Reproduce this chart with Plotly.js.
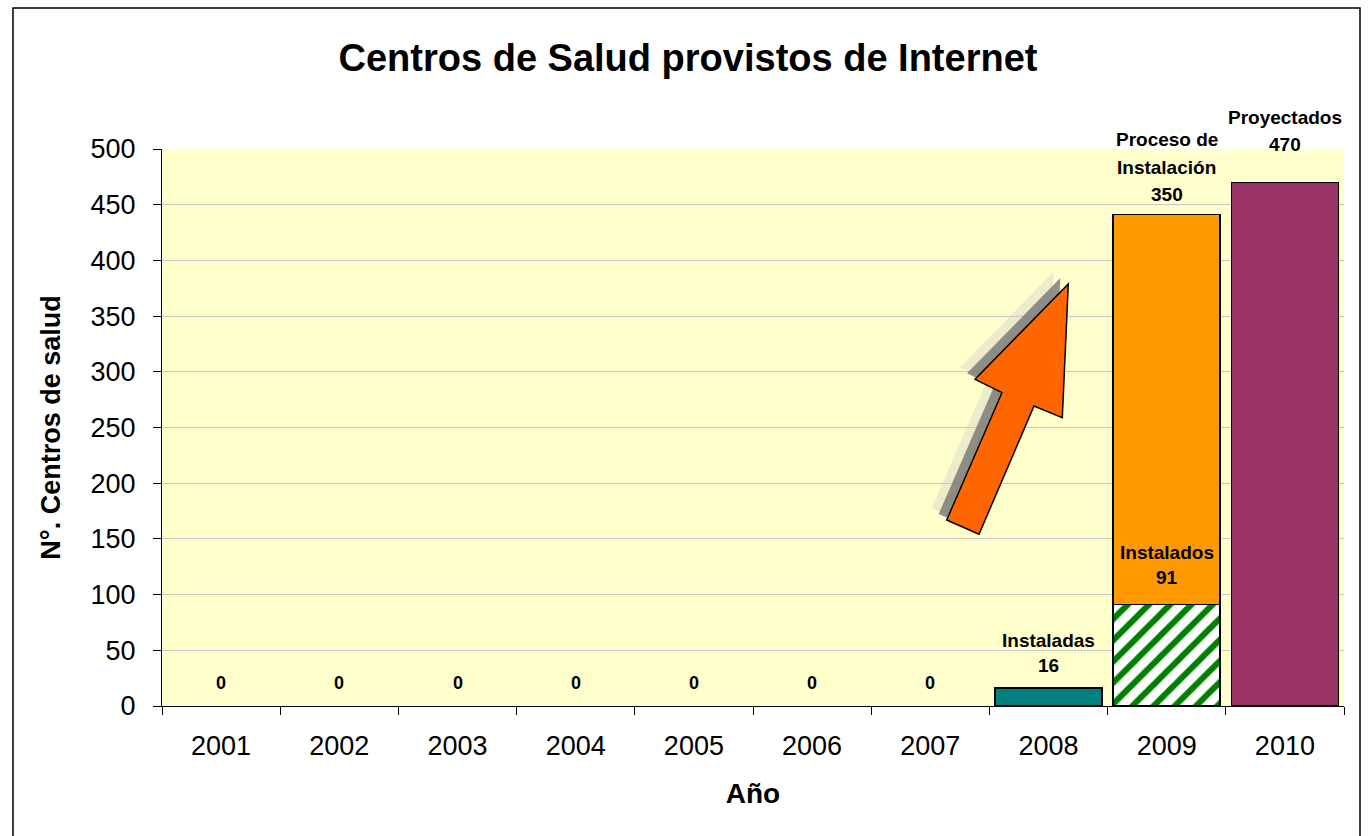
<!DOCTYPE html>
<html>
<head>
<meta charset="utf-8">
<script src="https://cdn.plot.ly/plotly-3.0.1.min.js"></script>
<style>html,body{margin:0;padding:0;background:#fff;}#chart{width:1370px;height:836px;}</style>
</head>
<body>
<div id="chart"></div>
<script>
// ---- data ----
const years = ['2001','2002','2003','2004','2005','2006','2007','2008','2009','2010'];
const instalados = [0, 0, 0, 0, 0, 0, 0, 16, 91, null];
const enProceso = [null, null, null, null, null, null, null, null, 350, null];
const proyectados = [null, null, null, null, null, null, null, null, null, 470];
const labelInstalados = ['', '', '', '', '', '', '', 'Instaladas', 'Instalados', ''];
const labelProceso = ['Proceso de', 'Instalación'];
const labelProyectados = 'Proyectados';
const hatchedYear = '2009';

const FONT = 'Liberation Sans, Arial, sans-serif';
const L = 162, R = 1344, T = 149, B = 706;
const W = 1370, H = 836;
const px = x => (x - L) / (R - L);
const py = y => (B - y) / (B - T);

const instSolid = instalados.map((v, i) => years[i] === hatchedYear ? null : v);
const instHatch = instalados.map((v, i) => years[i] === hatchedYear ? v : null);

const traces = [
  {
    type: 'bar', x: years, y: instSolid, name: 'Instaladas',
    marker: {color: '#008080', line: {color: '#000', width: instSolid.map(v => v ? 1.5 : 0)}}
  },
  {
    type: 'bar', x: years, y: instHatch, name: 'Instalados',
    marker: {
      color: '#FFFFFF',
      line: {color: '#000', width: 1.5},
      pattern: {shape: '/', fgcolor: '#008000', bgcolor: '#FFFFFF', fgopacity: 1, size: 15, solidity: 0.4}
    }
  },
  {
    type: 'bar', x: years, y: enProceso, name: 'Proceso de Instalación',
    marker: {color: '#FF9900', line: {color: '#000', width: 1.5}}
  },
  {
    type: 'bar', x: years, y: proyectados, name: 'Proyectados',
    marker: {color: '#993366', line: {color: '#000', width: 1.5}}
  }
];

const annotations = [];
function lab(i, y, text, shift, size) {
  annotations.push({x: i, y: y, xref: 'x', yref: 'y', text: '<b>' + text + '</b>', showarrow: false,
    yanchor: 'middle', yshift: shift, font: {family: FONT, size: size || 19, color: '#000'}});
}
years.forEach((yr, i) => {
  const v = instalados[i];
  if (v === 0) lab(i, 0, String(v), 23, 18);
});
lab(7, instalados[7], labelInstalados[7], 48);
lab(7, instalados[7], String(instalados[7]), 23);
lab(8, instalados[8], labelInstalados[8], 52);
lab(8, instalados[8], String(instalados[8]), 27);
const top09 = instalados[8] + enProceso[8];
lab(8, top09, labelProceso[0], 75);
lab(8, top09, labelProceso[1], 47);
lab(8, top09, String(enProceso[8]), 20);
lab(9, proyectados[9], labelProyectados, 65);
lab(9, proyectados[9], String(proyectados[9]), 38);

const arrowPx = [[946.7,520],[979,534.3],[1034,406],[1062.3,417.7],[1068.3,284],[975,379.3],[1002,392.7]];
function pathFrom(pts, dx, dy) {
  return pts.map((p, i) => (i ? 'L' : 'M') + px(p[0] + dx).toFixed(5) + ',' + py(p[1] + dy).toFixed(5)).join(' ') + ' Z';
}
const shapes = [
  {type: 'path', xref: 'paper', yref: 'paper', path: pathFrom(arrowPx, -15, -12), fillcolor: 'rgba(200,200,200,0.35)', line: {width: 0}, layer: 'above'},
  {type: 'path', xref: 'paper', yref: 'paper', path: pathFrom(arrowPx, -8, -6), fillcolor: 'rgba(110,110,110,0.75)', line: {width: 0}, layer: 'above'},
  {type: 'path', xref: 'paper', yref: 'paper', path: pathFrom(arrowPx, 0, 0), fillcolor: '#FF6600', line: {color: '#000', width: 1.5}, layer: 'above'},
  {type: 'rect', xref: 'paper', yref: 'paper', x0: px(13), x1: px(1360), y0: py(850), y1: py(8), line: {color: '#000', width: 1.5}, fillcolor: 'rgba(0,0,0,0)'}
];

const layout = {
  width: W, height: H, autosize: false,
  margin: {l: L, r: W - R, t: T, b: H - B, pad: 0},
  paper_bgcolor: '#FFFFFF', plot_bgcolor: '#FFFFCC',
  barmode: 'stack', bargap: 0.095, showlegend: false,
  font: {family: FONT, color: '#000'},
  title: {text: '<b>Centros de Salud provistos de Internet</b>', font: {family: FONT, size: 38, color: '#000'},
    x: 688 / W, xref: 'container', y: 1 - 58 / H, yref: 'container', yanchor: 'middle', xanchor: 'center'},
  xaxis: {
    type: 'category', categoryorder: 'array', categoryarray: years, range: [-0.5, years.length - 0.5],
    ticks: 'outside', ticklen: 8, tickcolor: '#000', tickwidth: 1, tickson: 'boundaries',
    showline: true, linecolor: '#000', linewidth: 1, showgrid: false,
    tickfont: {family: FONT, size: 27, color: '#000'}, tickangle: 0, ticklabelstandoff: 16,
    title: {text: '<b>Año</b>', font: {family: FONT, size: 28, color: '#000'}, standoff: 22}
  },
  yaxis: {
    range: [0, 500], dtick: 50, tick0: 0,
    ticks: 'outside', ticklen: 8, tickcolor: '#000', tickwidth: 1,
    showline: true, linecolor: '#000', linewidth: 1,
    showgrid: true, gridcolor: '#C8C8C8', gridwidth: 1, zeroline: false,
    tickfont: {family: FONT, size: 27, color: '#000'}, ticklabelstandoff: 12,
    title: {text: '<b>N°. Centros de salud</b>', font: {family: FONT, size: 27, color: '#000'}, standoff: 22}
  },
  annotations: annotations,
  shapes: shapes
};

Plotly.newPlot('chart', traces, layout, {displayModeBar: false, staticPlot: true});
</script>
</body>
</html>
